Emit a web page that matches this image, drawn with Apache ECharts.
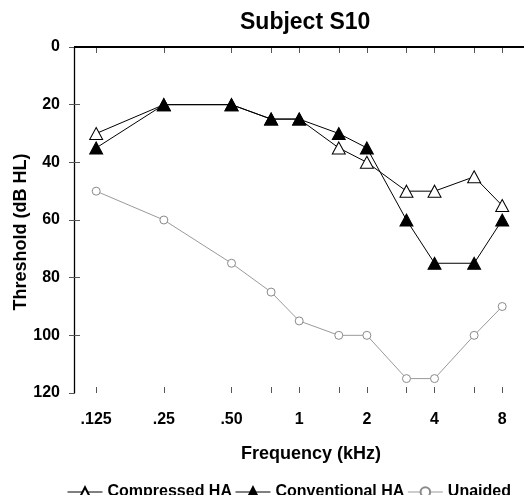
<!DOCTYPE html>
<html>
<head>
<meta charset="utf-8">
<script src="https://cdn.jsdelivr.net/npm/echarts@6/dist/echarts.min.js"></script>
<style>
  html, body { margin: 0; padding: 0; background: #fff; }
  #chart { width: 524px; height: 495px; }
</style>
</head>
<body>
<div id="chart"></div>
<script>
// Audiometric test frequencies (kHz)
const frequencies = [0.125, 0.25, 0.5, 0.75, 1, 1.5, 2, 3, 4, 6, 8];
// Octave frequencies that carry a label
const labelFreqs = [0.125, 0.25, 0.5, 1, 2, 4, 8];
const labelText = ['.125', '.25', '.50', '1', '2', '4', '8'];

// Thresholds in dB HL
const compressedHA   = [30, 20, 20, 25, 25, 35, 40, 50, 50, 45, 55];
const conventionalHA = [35, 20, 20, 25, 25, 30, 35, 60, 75, 75, 60];
const unaided        = [50, 60, 75, 85, 95, 100, 100, 115, 115, 100, 90];

const yTicks = [0, 20, 40, 60, 80, 100, 120];
const yInnerTicks = [20, 40, 60, 80, 100];

const FONT = 'Liberation Sans, Arial, sans-serif';
const X_MIN = 0.0996, X_MAX = 10.0;

const GRID = { left: 74, right: 0, top: 47, bottom: 102 };
const W = 524, H = 495;
const gridW = W - GRID.left - GRID.right;
const gridH = H - GRID.top - GRID.bottom;

function pairs(vals) {
  return frequencies.map((f, i) => [f, vals[i]]);
}

const chart = echarts.init(document.getElementById('chart'), null, { renderer: 'canvas' });

const baseX = {
  type: 'log',
  logBase: 2,
  min: X_MIN,
  max: X_MAX,
  gridIndex: 0,
  splitLine: { show: false },
  minorTick: { show: false },
  minorSplitLine: { show: false }
};
const tickStyle = { color: '#555', width: 1 };

chart.setOption({
  animation: false,
  backgroundColor: '#fff',
  title: {
    text: 'Subject S10',
    left: 240,
    top: 11,
    padding: 0,
    textStyle: { fontFamily: FONT, fontWeight: 'bold', fontSize: 23, color: '#000' }
  },
  grid: Object.assign({ containLabel: false }, GRID),
  legend: {
    left: 67,
    top: 484,
    padding: 0,
    itemWidth: 35,
    itemHeight: 12,
    itemGap: 3,
    lineStyle: { width: 1 },
    textStyle: { fontFamily: FONT, fontWeight: 'bold', fontSize: 16, color: '#000' },
    data: ['Compressed HA', 'Conventional HA', 'Unaided']
  },
  xAxis: [
    Object.assign({}, baseX, {
      position: 'bottom',
      name: 'Frequency (kHz)',
      nameLocation: 'middle',
      nameGap: 52,
      nameTextStyle: { fontFamily: FONT, fontWeight: 'bold', fontSize: 18, color: '#000',
                       padding: [0, 0, 0, 24] },
      axisLine: { show: true, lineStyle: { color: '#000', width: 1 } },
      axisTick: { show: true, inside: false, length: 6, customValues: frequencies, lineStyle: tickStyle },
      axisLabel: {
        show: true, margin: 19, customValues: labelFreqs,
        fontFamily: FONT, fontWeight: 'bold', fontSize: 16, color: '#000',
        formatter: v => {
          const i = labelFreqs.findIndex(f => Math.abs(f - v) < 1e-6);
          return i >= 0 ? labelText[i] : '';
        }
      }
    }),
    // upper half of the crossing ticks on the frequency axis
    Object.assign({}, baseX, {
      position: 'top',
      offset: -gridH,
      axisLine: { show: false },
      axisTick: { show: true, inside: false, length: 6, customValues: frequencies, lineStyle: tickStyle },
      axisLabel: { show: false }
    })
  ],
  yAxis: [
    {
      type: 'value',
      position: 'left',
      inverse: true,
      min: 0,
      max: 120,
      interval: 20,
      name: 'Threshold (dB HL)',
      nameLocation: 'middle',
      nameGap: 44,
      nameMoveOverlap: false,
      nameTextStyle: { fontFamily: FONT, fontWeight: 'bold', fontSize: 18, color: '#000',
                       padding: [0, 24, 0, 0] },
      splitLine: { show: false },
      axisLine: { show: true, lineStyle: { color: '#000', width: 1.3 } },
      axisTick: { show: true, inside: false, length: 5, customValues: yTicks, lineStyle: tickStyle },
      axisLabel: { margin: 14, customValues: yTicks,
                   fontFamily: FONT, fontWeight: 'bold', fontSize: 16, color: '#000' }
    },
    // right half of the crossing ticks on the threshold axis
    {
      type: 'value',
      position: 'right',
      offset: -gridW,
      inverse: true,
      min: 0,
      max: 120,
      interval: 20,
      splitLine: { show: false },
      axisLine: { show: false },
      axisTick: { show: true, inside: false, length: 6, customValues: yInnerTicks, lineStyle: tickStyle },
      axisLabel: { show: false }
    }
  ],
  series: [
    {
      name: 'Unaided',
      type: 'line',
      data: pairs(unaided),
      symbol: 'circle',
      symbolSize: 8,
      showAllSymbol: true,
      lineStyle: { color: '#9a9a9a', width: 1 },
      itemStyle: { color: '#fff', borderColor: '#8a8a8a', borderWidth: 1 },
      z: 2
    },
    {
      name: 'Compressed HA',
      type: 'line',
      data: pairs(compressedHA),
      symbol: 'triangle',
      symbolSize: [13, 12],
      showAllSymbol: true,
      clip: false,
      lineStyle: { color: '#000', width: 1 },
      itemStyle: { color: '#fff', borderColor: '#000', borderWidth: 1 },
      // top frame line of the plot area
      markLine: {
        silent: true,
        symbol: ['none', 'none'],
        label: { show: false },
        lineStyle: { color: '#000', width: 2, type: 'solid' },
        data: [{ yAxis: 0 }]
      },
      z: 3
    },
    {
      name: 'Conventional HA',
      type: 'line',
      data: pairs(conventionalHA),
      symbol: 'triangle',
      symbolSize: [13, 12],
      showAllSymbol: true,
      lineStyle: { color: '#000', width: 1 },
      itemStyle: { color: '#000', borderColor: '#000', borderWidth: 1 },
      z: 4
    }
  ]
});
</script>
</body>
</html>
